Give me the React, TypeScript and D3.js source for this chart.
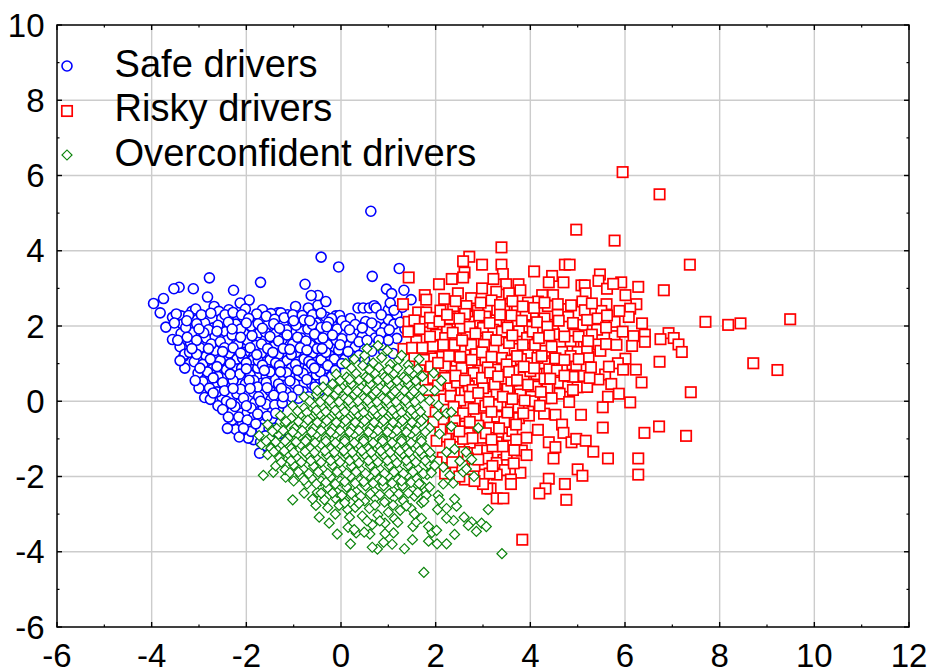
import React from "react";
import * as d3 from "d3";

const xTicks = [-6, -4, -2, 0, 2, 4, 6, 8, 10, 12];
const yTicks = [-6, -4, -2, 0, 2, 4, 6, 8, 10];
const xMinor = [-5, -3, -1, 1, 3, 5, 7, 9, 11];
const yMinor = [-5, -3, -1, 1, 3, 5, 7, 9];
const legendLabels = ["Safe drivers", "Risky drivers", "Overconfident drivers"];

type P = [number, number];

const safeDrivers: P[] = [
  [0.63,5.05],[-0.42,3.83],[-0.05,3.57],[0.66,3.32],[1.23,3.53],[-2.78,3.28],[-1.7,3.16],[-0.76,3.11],[-2.27,2.95],[-3.12,2.99],
  [-3.42,3.03],[-3.53,2.99],[-3.75,2.73],[-3.96,2.6],[-3.82,2.35],[-2.82,2.77],[-1.94,2.69],[-2.13,2.61],[-2.68,2.52],[-2.37,2.43],
  [-2.58,2.39],[-3.15,2.39],[-3.07,2.45],[-3.56,2.23],[-3.38,2.27],[-3.7,1.97],[-3.35,2.05],[-3.56,1.64],[-3.15,1.82],[-3.38,1.8],
  [0.36,2.48],[0.47,2.48],[0.6,2.48],[0.7,2.54],[0.74,2.48],[1.0,2.43],[0.96,2.98],[1.07,2.86],[1.33,2.95],[1.48,2.7],[1.04,2.61],
  [0.52,2.12],[0.75,1.99],[0.93,1.97],[1.35,1.92],[1.18,1.67],[1.0,2.17],[0.72,1.68],[0.61,1.5],[0.65,1.33],[1.1,1.27],[0.9,1.33],
  [0.32,1.84],[0.08,1.84],[-0.11,2.27],[-0.03,2.28],[-0.32,2.24],[-0.49,2.55],[-0.69,2.48],[-0.49,2.81],[-0.63,2.81],[-0.32,2.65],
  [-0.96,2.52],[-1.33,2.35],[-1.13,2.3],[-1.66,2.43],[-2.02,2.45],[-1.48,2.33],[-1.27,2.35],[-2.2,2.28],[-1.85,2.14],[1.18,2.3],[1.3,2.5],[1.12,2.05],
  [-3.4,1.45],[-3.32,1.2],[-3.3,1.25],[-3.1,1.05],[-3.18,1.55],[-2.98,1.42],[-2.85,1.68],[-2.7,1.95],[-2.88,2.08],[-2.52,2.2],[-2.66,1.72],[-2.44,1.85],
  [-2.22,2.05],[-2.05,1.8],[-1.9,2.0],[-1.72,1.82],[-1.55,2.02],[-1.38,1.8],[-1.22,2.05],[-1.05,1.85],[-0.88,2.1],[-0.7,1.92],[-0.52,2.08],[-0.35,1.85],[-0.18,2.02],
  [-2.4,1.62],[-2.18,1.5],[-1.98,1.62],[-1.8,1.48],[-1.6,1.62],[-1.42,1.45],[-1.24,1.65],[-1.02,1.52],[-0.84,1.68],[-0.65,1.5],[-0.46,1.66],[-0.28,1.5],[-0.1,1.62],[0.12,1.55],[0.3,1.44],[0.45,1.72],
  [-3.3,0.88],[-3.02,0.75],[-2.85,1.2],[-2.66,1.35],[-2.55,1.08],[-2.36,1.28],[-2.2,1.12],[-2.03,1.3],[-1.86,1.1],[-1.68,1.28],[-1.5,1.1],[-1.32,1.25],[-1.14,1.08],[-0.95,1.3],[-0.78,1.12],[-0.6,1.28],[-0.42,1.1],[-0.24,1.22],[-0.05,1.36],[0.08,1.12],[0.25,1.2],
  [-2.92,0.52],[-2.72,0.85],[-2.6,0.66],[-2.42,0.84],[-2.26,0.62],[-2.1,0.88],[-1.92,0.7],[-1.76,0.88],[-1.58,0.66],[-1.4,0.86],[-1.22,0.68],[-1.05,0.88],[-0.88,0.68],[-0.7,0.88],[-0.52,0.7],[-0.35,0.86],[-0.2,0.66],
  [-3.0,0.35],[-2.88,0.1],[-2.66,0.38],[-2.52,0.12],[-2.36,0.42],[-2.2,0.2],[-2.02,0.46],[-1.85,0.24],[-1.68,0.48],[-1.5,0.28],[-1.32,0.46],[-1.16,0.24],[-0.98,0.46],[-0.8,0.25],[-0.62,0.46],[-0.46,0.28],[-0.9,0.08],
  [-2.6,-0.12],[-2.42,0.0],[-2.3,-0.28],[-2.14,-0.06],[-1.98,-0.3],[-1.82,-0.04],[-1.65,-0.22],[-1.48,0.04],[-1.32,-0.2],[-1.15,0.02],
  [-2.22,-0.75],[-2.08,-0.58],[-2.05,-0.82],[-1.9,-0.62],[-1.78,-0.85],[-1.62,-0.6],[-1.45,-0.46],[-1.28,-0.58],[-2.3,-0.5],[-1.85,-0.42],
  [-1.85,-1.02],[-1.7,-1.08],[-1.62,-1.18],[-1.72,-1.38],[-1.5,-0.95],[-1.36,-1.05],[-1.4,-0.78],[-1.28,-0.85],
  [-3.48,2.32],[-3.22,2.28],[-2.95,2.3],[-2.75,2.34],[-2.45,2.3],[-2.28,2.36],[-2.1,2.3],[-1.78,2.32],[-1.58,2.26],[-1.4,2.18],[-1.2,2.22],[-1.02,2.3],[-0.82,2.28],[-0.6,2.3],[-0.42,2.34],[-0.2,2.2],[0.02,2.14],[0.2,2.2],[0.85,2.3],[1.12,2.42],
  [-3.52,2.08],[-3.28,1.96],[-3.05,2.06],[-2.8,1.9],[-2.6,2.02],[-2.38,2.1],[-2.12,1.92],[-1.95,2.2],[-1.75,2.06],[-1.6,1.84],[-1.42,2.06],[-1.15,1.9],[-0.95,2.02],[-0.78,2.16],[-0.6,2.04],[-0.42,1.96],[-0.26,2.1],[-0.08,1.92],[0.1,2.0],[0.3,2.04],[0.45,1.95],[0.65,2.08],[0.85,1.82],[1.02,1.9],[1.25,2.1],
  [-3.45,1.62],[-3.25,1.7],[-3.05,1.62],[-2.9,1.82],[-2.74,1.52],[-2.55,1.58],[-2.3,1.76],[-2.12,1.7],[-1.88,1.74],[-1.68,1.52],[-1.5,1.72],[-1.32,1.6],[-1.14,1.76],[-0.92,1.7],[-0.74,1.6],[-0.56,1.78],[-0.38,1.68],[-0.18,1.76],[0.02,1.66],[0.22,1.7],[0.38,1.58],[0.55,1.62],[0.85,1.5],[1.0,1.62],
  [-3.4,1.08],[-3.2,1.3],[-3.05,1.25],[-2.92,0.98],[-2.76,1.12],[-2.62,0.92],[-2.46,1.42],[-2.28,1.42],[-2.08,1.15],[-1.92,1.42],[-1.75,1.08],[-1.55,1.4],[-1.38,1.02],[-1.22,1.4],[-1.05,1.24],[-0.86,1.42],[-0.68,1.06],[-0.5,1.4],[-0.32,1.3],[-0.14,1.12],[0.15,1.32],[0.38,1.22],[0.5,1.1],
  [-3.08,0.55],[-2.82,0.78],[-2.78,0.35],[-2.5,0.5],[-2.34,1.0],[-2.14,0.72],[-2.0,1.02],[-1.84,0.55],[-1.66,0.96],[-1.5,0.78],[-1.3,0.95],[-1.15,0.76],[-0.96,0.98],[-0.8,0.74],[-0.62,0.98],[-0.44,0.78],[-0.28,0.95],[-0.12,0.82],[0.02,1.0],
  [-2.76,0.05],[-2.62,0.25],[-2.46,0.28],[-2.28,0.55],[-2.12,0.32],[-1.94,0.56],[-1.76,0.38],[-1.58,0.5],[-1.42,0.16],[-1.26,0.34],[-1.08,0.54],[-0.9,0.3],[-0.72,0.58],[-0.55,0.38],[-0.36,0.55],[-0.68,0.12],[-1.04,0.12],
  [-2.5,-0.22],[-2.38,-0.42],[-2.24,-0.14],[-2.06,0.08],[-1.9,-0.18],[-1.74,0.12],[-1.58,-0.08],[-1.4,-0.1],[-1.24,-0.05],[-2.16,-0.42],[-1.98,-0.5],[-1.76,-0.34],[-1.56,-0.4],[-1.38,-0.32],[-1.7,-0.72],[-1.52,-0.72],[-1.96,-0.98],[-2.15,-0.95],[-1.6,-0.92],[-1.9,-0.8],
  [-3.26,2.14],[-3.0,1.92],[-2.62,1.86],[-2.3,1.92],[-2.0,2.08],[-1.66,1.94],[-1.3,1.94],[-1.0,2.14],[-0.66,2.14],[-0.3,1.98],[0.18,1.9],[0.8,1.62],
  [-3.15,1.4],[-2.8,1.4],[-2.5,1.32],[-2.12,1.28],[-1.78,1.24],[-1.44,1.3],[-1.08,1.38],[-0.72,1.36],[-0.4,1.4],[-0.02,1.5],[-2.98,0.88],[-2.7,0.62],[-2.34,0.72],[-2.0,0.86],[-1.62,0.82],[-1.28,0.78],[-0.92,0.82],[-0.56,0.88],
  [-2.7,0.22],[-2.28,0.34],[-1.92,0.34],[-1.56,0.36],[-1.22,0.12],[-2.32,-0.06],[-2.0,-0.12],[-1.7,0.0],[-2.06,-0.72],[-1.8,-0.6],[-2.4,-0.72]
];

const riskyDrivers: P[] = [
  [5.95,6.09],[6.73,5.5],[4.97,4.56],[5.78,4.27],[3.39,4.09],[7.37,3.63],[2.71,3.84],[2.58,3.72],[2.98,3.63],[3.39,3.63],
  [4.73,3.63],[4.83,3.63],[2.61,3.42],[2.58,3.29],[3.42,3.38],[4.08,3.45],[4.46,3.33],[2.34,3.25],[2.07,3.11],[3.22,3.25],
  [4.39,3.16],[4.7,3.16],[5.47,3.37],[5.44,3.2],[5.92,3.16],[6.28,3.04],[6.82,2.95],[5.08,3.08],[5.15,3.08],[5.62,2.99],
  [5.75,3.12],[5.17,2.87],[6.01,2.82],[3.75,3.11],[3.49,3.11],[2.98,3.0],[3.28,2.91],[3.55,2.87],[3.79,2.95],[2.47,2.87],
  [2.75,2.74],[1.77,2.82],[1.8,2.7],[4.25,2.82],[4.48,2.82],[4.16,2.65],[3.95,2.62],[5.1,2.65],[5.61,2.58],[6.24,2.58],
  [6.11,2.46],[5.15,2.42],[4.7,2.45],[5.5,2.4],[4.37,2.53],[3.72,2.41],[3.45,2.45],[3.08,2.45],[2.89,2.41],[2.65,2.53],
  [2.37,2.53],[2.1,2.41],[1.63,2.36],[1.8,2.36],[1.31,2.58],[1.43,3.29],[4.06,2.28],[6.08,2.24],[4.8,2.24],[5.78,2.11],
  [6.36,2.07],[7.7,2.11],[8.18,2.03],[8.44,2.07],[9.49,2.18],[1.43,2.11],[1.77,2.11],[1.94,2.07],[2.44,2.11],[2.82,2.11],
  [3.28,2.15],[3.56,2.07],[3.72,2.07],[3.94,1.98],[4.23,1.9],[4.49,2.03],[4.7,1.98],[5.1,2.03],[5.41,1.9],[2.24,1.9],
  [3.21,1.9],[3.76,1.86],[4.93,1.77],[5.3,1.77],[5.78,1.73],[6.18,1.73],[6.42,1.77],[6.92,1.81],[6.75,1.65],[7.03,1.68],
  [7.13,1.51],[7.2,1.31],[6.15,1.47],[6.42,1.58],[1.72,1.68],[1.59,1.6],[2.01,1.77],[2.65,1.81],[2.37,1.6],[2.94,1.6],
  [3.45,1.65],[3.93,1.68],[4.32,1.6],[4.64,1.56],[5.13,1.56],[5.44,1.51],[5.48,1.34],[5.0,1.31],[4.67,1.31],[4.3,1.34],
  [3.95,1.26],[3.67,1.39],[3.22,1.39],[2.61,1.34],[2.35,1.34],[2.1,1.43],[1.94,1.47],[2.13,1.18],[1.92,1.14],[1.32,1.39],
  [1.66,0.94],[2.44,1.05],[2.68,1.01],[2.94,0.81],[3.28,0.84],[3.69,0.84],[3.96,1.01],[4.3,1.01],[4.53,1.14],[4.8,0.98],
  [4.97,0.96],[5.23,1.18],[6.01,1.13],[5.85,1.01],[5.96,0.84],[6.23,0.84],[6.73,1.05],[8.71,1.01],[9.22,0.83],[4.67,0.84],
  [4.13,0.72],[5.13,0.67],[5.58,0.71],[5.44,0.58],[3.86,0.63],[3.18,0.58],[2.88,0.54],[2.61,0.67],[2.38,0.8],[2.12,0.76],
  [4.62,0.5],[4.8,0.39],[5.0,0.37],[5.71,0.46],[6.35,0.5],[7.39,0.24],[4.36,0.33],[4.13,0.43],[3.51,0.37],[3.77,0.28],
  [3.28,0.2],[3.07,0.12],[2.54,0.25],[2.31,0.42],[2.1,0.19],[5.64,0.12],[5.87,0.2],[6.11,-0.03],[2.44,-0.03],[2.62,0.26],
  [3.52,0.35],[3.79,0.18],[4.12,0.39],[3.59,-0.16],[3.96,-0.16],[3.29,-0.41],[3.08,-0.45],[2.85,-0.45],[3.76,-0.45],[3.97,-0.38],
  [2.62,-0.67],[2.16,-0.54],[2.22,-0.94],[2.48,-0.94],[2.71,-0.85],[3.36,-0.99],[3.54,-0.99],[5.53,-0.16],[5.53,-0.7],[5.07,-0.36],
  [4.53,-0.36],[4.29,-0.33],[4.67,-0.62],[4.16,-0.76],[4.7,-0.84],[6.72,-0.67],[6.41,-0.84],[7.29,-0.92],[3.62,-0.79],[3.92,-0.97],
  [3.29,-1.09],[2.96,-0.97],[4.87,-1.09],[4.97,-1.0],[5.17,-1.05],[4.39,-1.09],[4.53,-1.22],[3.55,-1.18],[5.33,-1.34],[3.82,-1.31],
  [3.92,-1.43],[4.49,-1.52],[5.64,-1.52],[6.28,-1.52],[6.28,-1.95],[2.88,-1.31],[3.09,-1.31],[3.43,-1.56],[3.09,-1.52],[3.29,-1.64],
  [3.46,-1.83],[5.0,-1.81],[5.1,-1.98],[3.79,-1.9],[3.29,-1.95],[3.02,-1.95],[3.14,-1.92],[2.62,-2.08],[3.59,-2.08],[3.59,-2.2],
  [4.39,-2.06],[4.32,-2.32],[4.73,-2.2],[4.19,-2.45],[3.16,-2.32],[3.09,-2.32],[3.29,-2.58],[3.43,-2.58],[4.76,-2.62],[3.83,-3.68],
  [1.42,1.85],[1.55,1.2],[1.78,0.55],[1.85,0.3],[2.02,0.02],[2.2,-0.2],[2.42,-0.35],[2.65,-0.15],[2.9,0.02],[2.72,-1.1],[2.6,-1.35],[2.82,-1.72],
  [2.3,2.2],[2.6,2.25],[3.05,2.25],[3.6,2.28],[3.9,2.3],[4.3,2.2],[4.58,2.3],[2.52,1.95],[3.0,1.95],[3.4,1.85],[4.05,1.85],[4.5,1.78],[4.85,1.6],[5.2,1.42],[2.2,1.68],[2.75,1.5],[3.1,1.7],[3.55,1.55],[4.1,1.5],[4.45,1.45],[4.85,1.2],
  [2.4,1.5],[2.85,1.25],[3.05,1.1],[3.4,1.15],[3.6,1.08],[3.8,1.12],[4.15,1.15],[4.4,0.85],[2.2,0.95],[2.55,0.88],[2.8,0.75],[3.1,0.9],[3.45,0.6],[3.6,0.55],[4.0,0.8],[4.3,0.6],[4.9,0.65],[2.45,0.5],[2.7,0.4],[3.0,0.35],[3.25,0.45],[4.02,0.12],[4.3,0.08],[4.62,0.2],[5.2,0.38],
  [3.05,-0.12],[3.3,-0.1],[2.8,-0.2],[3.15,-0.7],[2.9,-0.65],[3.45,-0.55],[3.75,-0.15],[4.05,0.0],[3.5,-1.42],[3.65,-1.65],[3.2,-1.2],
  [2.18,2.72],[2.42,2.66],[2.62,2.32],[2.95,2.62],[3.18,2.68],[3.36,2.56],[3.62,2.66],[3.84,2.52],[4.08,2.48],[4.3,2.62],[4.58,2.58],[4.86,2.55],[5.3,2.6],[5.42,2.2],[5.62,2.28],[5.88,2.4],
  [1.55,2.15],[1.66,1.92],[1.88,2.22],[2.08,2.12],[2.24,2.3],[2.5,2.2],[2.72,1.98],[2.92,2.28],[3.14,2.08],[3.36,2.3],[3.52,1.96],[3.82,2.14],[4.14,2.1],[4.36,1.98],[4.6,2.14],[4.9,2.08],[5.2,2.16],[5.6,1.96],[5.95,1.85],
  [1.5,1.42],[1.72,1.42],[1.88,1.72],[2.16,1.5],[2.36,1.82],[2.56,1.62],[2.84,1.8],[3.02,1.5],[3.28,1.62],[3.62,1.75],[3.84,1.5],[4.18,1.68],[4.4,1.75],[4.72,1.72],[5.02,1.72],[5.22,1.6],[5.6,1.52],[5.82,1.5],
  [1.75,1.1],[1.9,0.92],[2.05,1.02],[2.28,1.2],[2.52,1.18],[2.76,1.1],[2.98,1.3],[3.18,1.18],[3.5,0.98],[3.72,1.2],[3.86,0.92],[4.08,0.88],[4.24,1.2],[4.56,0.82],[4.72,1.1],[5.02,1.12],[5.28,0.9],[5.66,0.92],
  [1.95,0.62],[2.2,0.62],[2.42,0.68],[2.62,0.55],[2.78,0.3],[2.98,0.62],[3.15,0.76],[3.32,0.66],[3.55,0.78],[3.72,0.56],[3.95,0.44],[4.22,0.25],[4.42,0.6],[4.72,0.68],[4.9,0.3],[5.25,0.62],
  [2.05,0.42],[2.18,0.05],[2.32,0.14],[2.52,0.02],[2.72,0.12],[2.9,0.22],[3.12,-0.02],[3.42,0.12],[3.62,0.06],[3.88,0.02],[4.2,-0.12],[4.45,0.08],[4.82,-0.02],[2.38,-0.15],[2.58,-0.32],[2.72,-0.55],[3.18,-0.28],[3.52,-0.3],[3.85,-0.32],[3.34,-0.72],[3.7,-0.62],
  [2.4,-0.52],[2.35,-0.72],[2.58,-1.0],[2.78,-0.98],[3.06,-0.85],[3.18,-1.02],[3.42,-1.2],[3.66,-1.3],[2.68,-1.52],[2.9,-1.55],[3.2,-1.72],[2.56,-1.72],[3.0,-2.2],[2.82,-2.12],[3.7,-1.02],
  [2.0,-0.3],[2.1,-0.75],[2.02,-1.05],[2.3,-1.15],[2.5,-0.8],[2.15,-1.5],[2.35,-1.62],[2.5,-2.0],[2.2,-1.92],[2.02,-1.62],[1.95,-0.55]
];

const overconfidentDrivers: P[] = [
  [1.75,-4.55],[3.4,-4.05],[1.34,-3.92],[0.77,-3.93],[0.66,-3.88],[1.08,-3.8],[0.9,-3.75],[0.2,-3.79],[1.51,-3.68],[1.85,-3.72],
  [2.03,-3.79],[2.23,-3.79],[2.4,-3.54],[-0.08,-3.53],[0.61,-3.53],[0.32,-3.5],[1.11,-3.5],[1.92,-3.49],[2.02,-3.43],[1.85,-3.33],
  [1.52,-3.33],[1.59,-3.21],[1.7,-3.11],[2.86,-3.46],[2.97,-3.24],[3.07,-3.33],[2.76,-3.21],[2.69,-3.3],[2.6,-3.08],[2.38,-3.17],
  [2.23,-3.11],[3.11,-2.88],[2.44,-2.79],[2.23,-2.85],[2.04,-2.88],[2.4,-2.6],[-0.25,-3.24],[-0.46,-3.08],[-1.02,-2.62],[-1.64,-1.97],
  [-1.43,-1.89],[-1.17,-2.02],[-0.78,-2.44],[-0.53,-2.77],[-0.28,-2.83],[-0.04,-2.77],[0.14,-2.88],[0.18,-3.08],[0.15,-3.35],[0.28,-3.41],
  [0.49,-3.48],[0.66,-3.28],[0.93,-3.52],[0.93,-3.24],[1.13,-3.12],[0.45,-3.05],[0.78,-3.02],[1.0,-2.95],[0.3,-2.82],[0.6,-2.85],[1.25,-2.9],[1.48,-2.85],[1.7,-2.7],
  [-0.35,-2.62],[-0.12,-2.58],[0.08,-2.62],[0.3,-2.55],[0.5,-2.65],[0.72,-2.58],[0.92,-2.68],[1.12,-2.56],[1.32,-2.65],[1.55,-2.52],[1.8,-2.5],[2.05,-2.5],[2.37,-2.18],
  [-0.72,-2.2],[-0.5,-2.42],[-0.28,-2.3],[-0.08,-2.42],[0.12,-2.28],[0.32,-2.4],[0.52,-2.25],[0.7,-2.38],[0.9,-2.25],[1.1,-2.38],[1.3,-2.25],[1.5,-2.35],[1.7,-2.22],[1.87,-2.28],[2.16,-2.2],
  [-1.0,-2.12],[-0.85,-1.98],[-0.62,-2.05],[-0.42,-2.12],[-0.22,-2.02],[-0.02,-2.12],[0.2,-2.0],[0.4,-2.1],[0.6,-1.98],[0.8,-2.08],[1.0,-1.98],[1.2,-2.08],[1.4,-1.96],[1.6,-2.06],[1.82,-1.95],[2.3,-1.97],[2.81,-2.0],[2.58,-1.88],
  [-1.38,-1.72],[-1.18,-1.82],[-1.0,-1.7],[-0.8,-1.8],[-0.58,-1.72],[-0.38,-1.82],[-0.18,-1.7],[0.02,-1.82],[0.22,-1.72],[0.42,-1.82],[0.62,-1.7],[0.82,-1.8],[1.02,-1.7],[1.22,-1.82],[1.42,-1.7],[1.62,-1.8],[1.85,-1.68],[2.16,-1.75],[2.65,-1.8],[2.51,-1.59],[2.76,-1.55],
  [-1.55,-1.42],[-1.3,-1.5],[-1.1,-1.42],[-0.92,-1.52],[-0.7,-1.42],[-0.5,-1.54],[-0.3,-1.42],[-0.1,-1.52],[0.1,-1.4],[0.3,-1.52],[0.5,-1.42],[0.7,-1.52],[0.9,-1.42],[1.1,-1.52],[1.3,-1.4],[1.5,-1.52],[1.72,-1.42],[1.9,-1.5],[2.23,-1.35],[2.64,-1.35],[2.4,-1.27],
  [-1.68,-1.15],[-1.48,-1.25],[-1.25,-1.15],[-1.05,-1.25],[-0.85,-1.15],[-0.65,-1.25],[-0.42,-1.15],[-0.22,-1.26],[-0.02,-1.15],[0.18,-1.26],[0.38,-1.15],[0.58,-1.26],[0.78,-1.15],[0.98,-1.26],[1.18,-1.15],[1.38,-1.26],[1.6,-1.15],[1.8,-1.25],
  [-1.73,-0.91],[-1.5,-0.98],[-1.32,-0.88],[-1.12,-0.98],[-0.92,-0.88],[-0.72,-1.0],[-0.52,-0.88],[-0.32,-0.98],[-0.12,-0.88],[0.08,-1.0],[0.28,-0.88],[0.48,-1.0],[0.68,-0.88],[0.88,-1.0],[1.08,-0.88],[1.28,-1.0],[1.48,-0.88],[1.7,-0.98],[2.08,-0.87],[2.9,-0.71],
  [-1.55,-0.62],[-1.36,-0.72],[-1.18,-0.6],[-0.98,-0.72],[-0.78,-0.62],[-0.58,-0.72],[-0.38,-0.6],[-0.18,-0.72],[0.02,-0.6],[0.22,-0.72],[0.42,-0.6],[0.62,-0.72],[0.82,-0.6],[1.02,-0.72],[1.22,-0.6],[1.42,-0.72],[1.62,-0.6],[1.87,-0.71],[2.33,-0.67],
  [-1.28,-0.38],[-1.05,-0.45],[-0.85,-0.34],[-0.65,-0.45],[-0.45,-0.34],[-0.25,-0.46],[-0.05,-0.34],[0.15,-0.46],[0.35,-0.34],[0.55,-0.46],[0.75,-0.34],[0.95,-0.46],[1.15,-0.34],[1.35,-0.46],[1.55,-0.34],[1.75,-0.46],[2.05,-0.38],[2.23,-0.32],[2.33,-0.29],
  [-1.02,-0.12],[-0.78,-0.18],[-0.58,-0.08],[-0.38,-0.18],[-0.18,-0.08],[0.02,-0.18],[0.22,-0.08],[0.42,-0.18],[0.62,-0.08],[0.82,-0.18],[1.02,-0.08],[1.22,-0.18],[1.42,-0.08],[1.62,-0.18],[1.87,0.02],[2.06,-0.11],
  [-0.78,0.12],[-0.52,0.18],[-0.32,0.08],[-0.12,0.18],[0.08,0.08],[0.28,0.18],[0.48,0.08],[0.68,0.18],[0.88,0.08],[1.08,0.18],[1.28,0.08],[1.48,0.18],[1.68,0.08],[1.98,0.28],
  [-0.38,0.38],[-0.18,0.46],[0.02,0.36],[0.22,0.46],[0.42,0.36],[0.62,0.46],[0.82,0.36],[1.02,0.46],[1.22,0.36],[1.42,0.46],[1.62,0.36],[1.73,0.3],
  [-0.1,0.72],[0.12,0.64],[0.32,0.74],[0.52,0.64],[0.72,0.74],[0.92,0.64],[1.12,0.74],[1.32,0.64],[1.52,0.74],[1.72,0.66],[2.12,0.55],[1.96,0.75],
  [0.1,1.0],[0.28,1.12],[0.46,0.95],[0.5,1.22],[0.68,1.02],[0.86,1.16],[1.04,0.98],[1.22,1.1],[1.42,0.96],[1.65,1.12],[0.55,1.4],[0.78,1.48],[0.98,1.35],[1.28,1.22],
  [0.22,0.88],[0.6,0.84],[0.8,0.9],[1.0,0.84],[1.2,0.88],[1.44,0.82],[1.62,0.86],[-0.02,0.55],[0.18,0.58],[0.38,0.56],[0.58,0.6],[0.78,0.56],[0.98,0.58],[1.18,0.54],[1.38,0.58],[1.58,0.54],
  [-0.5,0.28],[-0.28,0.26],[-0.06,0.3],[0.14,0.28],[0.34,0.26],[0.54,0.3],[0.74,0.26],[0.94,0.3],[1.14,0.26],[1.34,0.28],[1.54,0.26],
  [-0.66,0.0],[-0.44,-0.02],[-0.24,0.02],[-0.04,-0.02],[0.16,0.02],[0.36,0.0],[0.56,0.02],[0.76,-0.02],[0.96,0.02],[1.16,-0.02],[1.36,0.02],[1.56,-0.02],
  [-0.92,-0.26],[-0.72,-0.3],[-0.52,-0.24],[-0.32,-0.28],[-0.12,-0.24],[0.08,-0.28],[0.28,-0.24],[0.48,-0.3],[0.68,-0.24],[0.88,-0.28],[1.08,-0.24],[1.28,-0.3],[1.48,-0.24],[1.68,-0.28],
  [-1.16,-0.54],[-0.9,-0.54],[-0.7,-0.5],[-0.5,-0.56],[-0.3,-0.52],[-0.1,-0.56],[0.1,-0.52],[0.3,-0.56],[0.5,-0.52],[0.7,-0.56],[0.9,-0.52],[1.1,-0.56],[1.3,-0.52],[1.5,-0.56],[1.7,-0.52],
  [-1.45,-0.8],[-1.22,-0.78],[-1.02,-0.82],[-0.82,-0.78],[-0.62,-0.82],[-0.42,-0.78],[-0.22,-0.82],[-0.02,-0.78],[0.18,-0.82],[0.38,-0.78],[0.58,-0.82],[0.78,-0.78],[0.98,-0.82],[1.18,-0.78],[1.38,-0.82],[1.58,-0.78],[1.78,-0.82],
  [-1.58,-1.06],[-1.38,-1.08],[-1.18,-1.06],[-0.95,-1.08],[-0.75,-1.06],[-0.55,-1.1],[-0.32,-1.06],[-0.12,-1.1],[0.08,-1.06],[0.28,-1.1],[0.48,-1.06],[0.68,-1.1],[0.88,-1.06],[1.08,-1.1],[1.28,-1.06],[1.48,-1.1],[1.7,-1.06],
  [-1.42,-1.34],[-1.2,-1.32],[-1.0,-1.36],[-0.76,-1.34],[-0.56,-1.36],[-0.34,-1.32],[-0.14,-1.36],[0.06,-1.32],[0.24,-1.36],[0.44,-1.32],[0.64,-1.36],[0.84,-1.32],[1.04,-1.36],[1.24,-1.32],[1.44,-1.36],[1.66,-1.32],[1.88,-1.36],
  [-1.26,-1.62],[-1.06,-1.58],[-0.84,-1.62],[-0.64,-1.58],[-0.42,-1.62],[-0.22,-1.58],[-0.02,-1.62],[0.18,-1.58],[0.38,-1.64],[0.58,-1.58],[0.78,-1.62],[0.98,-1.58],[1.18,-1.64],[1.38,-1.58],[1.58,-1.62],[1.78,-1.58],[1.98,-1.71],
  [-1.08,-1.9],[-0.9,-1.88],[-0.68,-1.92],[-0.48,-1.88],[-0.28,-1.92],[-0.08,-1.88],[0.12,-1.92],[0.32,-1.88],[0.52,-1.92],[0.72,-1.88],[0.92,-1.92],[1.12,-1.88],[1.32,-1.92],[1.52,-1.88],[1.74,-1.92],[1.91,-1.9],
  [-0.78,-2.1],[-0.52,-2.2],[-0.32,-2.16],[-0.12,-2.2],[0.08,-2.14],[0.3,-2.18],[0.48,-2.14],[0.68,-2.18],[0.88,-2.12],[1.08,-2.18],[1.28,-2.12],[1.48,-2.16],[1.65,-2.19],
  [-0.6,-2.6],[-0.42,-2.44],[-0.18,-2.44],[0.02,-2.5],[0.22,-2.46],[0.42,-2.52],[0.62,-2.46],[0.82,-2.48],[1.02,-2.46],[1.22,-2.46],[1.42,-2.44],[1.62,-2.42],[1.75,-2.66],[2.08,-2.62],
  [-0.12,-3.0],[0.08,-2.7],[0.38,-2.72],[0.72,-2.76],[1.1,-2.76],[1.38,-2.78],[0.55,-3.18],[0.82,-3.18],[1.2,-3.22],[1.55,-3.0]
];

const W = 930, H = 670;
const x = d3.scaleLinear().domain([-6, 12]).range([57, 909]);
const y = d3.scaleLinear().domain([-6, 10]).range([627, 25]);
const diamond = d3.symbol().type(d3.symbolSquare).size(50)()!;
const FONT = "'Liberation Sans', Arial, sans-serif";

function Circle({ cx, cy }: { cx: number; cy: number }) {
  return <circle cx={cx} cy={cy} r={5} fill="#fff" stroke="#0000ff" strokeWidth={1.6} />;
}
function Square({ cx, cy }: { cx: number; cy: number }) {
  return <rect x={cx - 5.2} y={cy - 5.2} width={10.4} height={10.4} fill="#fff" stroke="#ff0000" strokeWidth={1.7} />;
}
function Diamond({ cx, cy }: { cx: number; cy: number }) {
  return <path d={diamond} transform={`translate(${cx},${cy}) rotate(45)`} fill="#fff" stroke="#0b840b" strokeWidth={1.2} />;
}

export default function App() {
  return (
    <svg width={W} height={H} style={{ position: "absolute", left: 0, top: 0, display: "block", background: "#fff" }} fontFamily={FONT}>
      {xTicks.slice(1, -1).map(t => <line key={t} x1={x(t)} x2={x(t)} y1={y(10)} y2={y(-6)} stroke="#cccccc" strokeWidth={1.4} />)}
      {yTicks.slice(1, -1).map(t => <line key={t} x1={x(-6)} x2={x(12)} y1={y(t)} y2={y(t)} stroke="#cccccc" strokeWidth={1.4} />)}

      {safeDrivers.map((p, i) => <Circle key={i} cx={x(p[0])} cy={y(p[1])} />)}
      {riskyDrivers.map((p, i) => <Square key={i} cx={x(p[0])} cy={y(p[1])} />)}
      {overconfidentDrivers.map((p, i) => <Diamond key={i} cx={x(p[0])} cy={y(p[1])} />)}

      <rect x={x(-6)} y={y(10)} width={x(12) - x(-6)} height={y(-6) - y(10)} fill="none" stroke="#000" strokeWidth={1.5} />
      {xTicks.map(t => (
        <g key={t} stroke="#000" strokeWidth={1.4}>
          <line x1={x(t)} x2={x(t)} y1={y(-6)} y2={y(-6) - 5} />
          <line x1={x(t)} x2={x(t)} y1={y(10)} y2={y(10) + 5} />
        </g>
      ))}
      {xMinor.map(t => (
        <g key={t} stroke="#000" strokeWidth={1.2}>
          <line x1={x(t)} x2={x(t)} y1={y(-6)} y2={y(-6) - 2.5} />
          <line x1={x(t)} x2={x(t)} y1={y(10)} y2={y(10) + 2.5} />
        </g>
      ))}
      {yTicks.map(t => (
        <g key={t} stroke="#000" strokeWidth={1.4}>
          <line x1={x(-6)} x2={x(-6) + 5} y1={y(t)} y2={y(t)} />
          <line x1={x(12)} x2={x(12) - 5} y1={y(t)} y2={y(t)} />
        </g>
      ))}
      {yMinor.map(t => (
        <g key={t} stroke="#000" strokeWidth={1.2}>
          <line x1={x(-6)} x2={x(-6) + 2.5} y1={y(t)} y2={y(t)} />
          <line x1={x(12)} x2={x(12) - 2.5} y1={y(t)} y2={y(t)} />
        </g>
      ))}
      {xTicks.map(t => <text key={t} x={x(t)} y={666.5} textAnchor="middle" fontSize={33} fill="#000">{t}</text>)}
      {yTicks.map(t => <text key={t} x={44.5} y={y(t) + 11.5} textAnchor="end" fontSize={33} fill="#000">{t}</text>)}

      <Circle cx={67} cy={66} />
      <Square cx={67} cy={111} />
      <Diamond cx={67} cy={155} />
      {legendLabels.map((l, i) => <text key={l} x={114.5} y={77 + i * 44.4} fontSize={38.1} fill="#000">{l}</text>)}
    </svg>
  );
}
